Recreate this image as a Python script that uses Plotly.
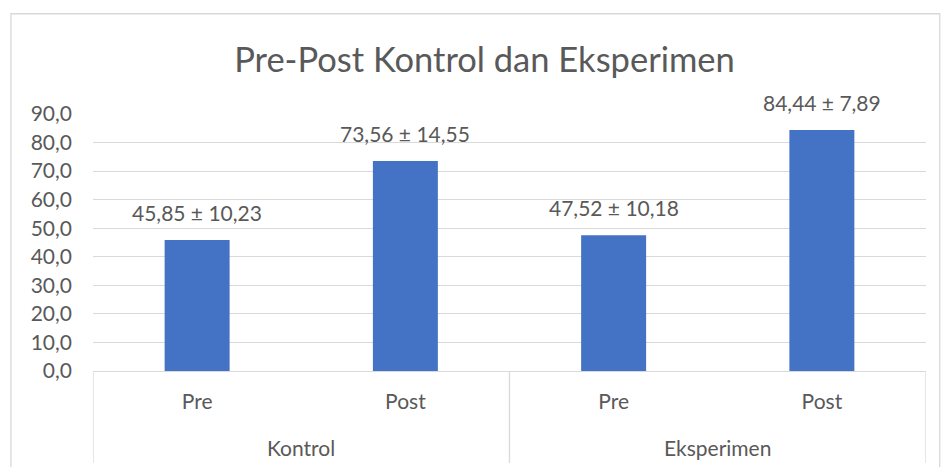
import plotly.graph_objects as go

groups = ["Kontrol", "Kontrol", "Eksperimen", "Eksperimen"]
phases = ["Pre", "Post", "Pre", "Post"]
means = [45.85, 73.56, 47.52, 84.44]
sds = [10.23, 14.55, 10.18, 7.89]
yticks = [0, 10, 20, 30, 40, 50, 60, 70, 80, 90]
ytick_labels = ["0,0", "10,0", "20,0", "30,0", "40,0", "50,0", "60,0", "70,0", "80,0", "90,0"]

def fmt(v):
    return f"{v:.2f}".replace(".", ",")

labels = [f"{fmt(m)} ± {fmt(s)}" for m, s in zip(means, sds)]
xpos = list(range(len(means)))

FONT = "Lato, Open Sans, sans-serif"
GREY = "#595959"
LINE = "#d9d9d9"

fig = go.Figure()
fig.add_trace(go.Bar(
    x=xpos, y=means, marker=dict(color="#4472C4", line=dict(width=0)),
    width=0.312, hoverinfo="skip",
))

annotations = []
for x, m, lab in zip(xpos, means, labels):
    annotations.append(dict(x=x, y=m, xref="x", yref="y", text=lab, showarrow=False,
                            yanchor="bottom", yshift=13,
                            font=dict(family=FONT, size=21, color=GREY)))

# group labels
uniq = []
for g in groups:
    if g not in uniq:
        uniq.append(g)
for g in uniq:
    idx = [i for i, gg in enumerate(groups) if gg == g]
    cx = sum(idx) / len(idx)
    annotations.append(dict(x=cx, y=0, xref="x", yref="paper", text=g, showarrow=False,
                            yanchor="middle", yshift=-76,
                            font=dict(family=FONT, size=21, color=GREY)))

shapes = []
# dividers
bounds = [-0.5]
for i in range(1, len(groups)):
    if groups[i] != groups[i - 1]:
        bounds.append(i - 0.5)
bounds.append(len(groups) - 0.5)
for b in bounds:
    shapes.append(dict(type="line", xref="x", yref="paper", x0=b, x1=b, y0=0, y1=-0.358,
                       line=dict(color=LINE, width=1.3)))
# chart border
shapes.append(dict(type="rect", xref="paper", yref="paper", x0=-0.0985, x1=1.0165,
                   y0=-0.5, y1=1.39, line=dict(color=LINE, width=1.3), layer="below"))

fig.update_layout(
    width=942, height=467,
    margin=dict(l=93, r=16, t=114, b=96),
    paper_bgcolor="white", plot_bgcolor="white",
    title=dict(text="Pre-Post Kontrol dan Eksperimen", x=484.5 / 942, xanchor="center",
               y=1 - 60 / 467, yanchor="middle",
               font=dict(family=FONT, size=34.5, color=GREY)),
    showlegend=False,
    xaxis=dict(range=[-0.5, 3.5], tickmode="array", tickvals=xpos, ticktext=phases,
               showgrid=False, zeroline=False, showline=True, linecolor=LINE, linewidth=1.3,
               ticks="", ticklabelstandoff=12,
               tickfont=dict(family=FONT, size=21, color=GREY), fixedrange=True),
    yaxis=dict(range=[0, 90], tickmode="array", tickvals=yticks, ticktext=ytick_labels,
               showgrid=True, gridcolor=LINE, gridwidth=1.3, zeroline=False, showline=False,
               ticks="", ticklabelstandoff=20,
               tickfont=dict(family=FONT, size=21, color=GREY), fixedrange=True),
    annotations=annotations, shapes=shapes,
)

fig.write_html("out.html", config={"displayModeBar": False},
               post_script="document.body.style.margin='0';document.body.style.overflow='hidden';")
